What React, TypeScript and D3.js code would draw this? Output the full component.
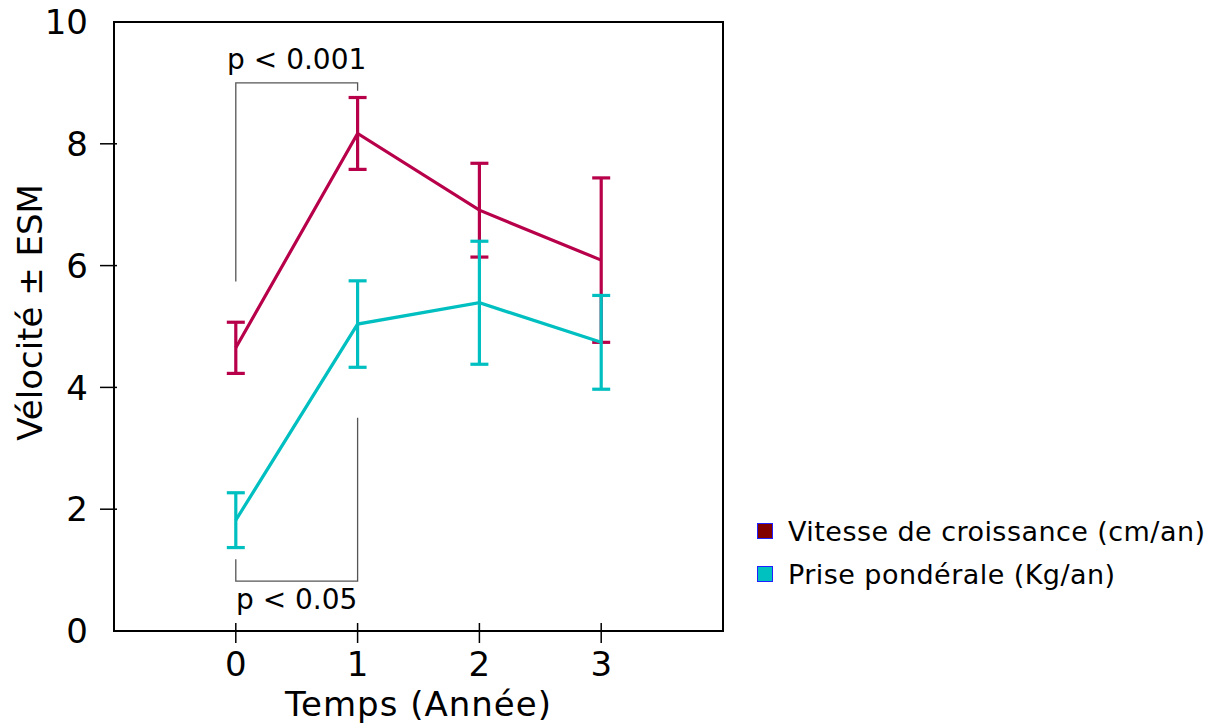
import React from 'react';
import * as d3 from 'd3';

// values
const years = [0, 1, 2, 3];
const vitesseMean = [4.65, 8.17, 6.91, 6.09];
const vitesseErr = [0.42, 0.59, 0.77, 1.35];
const priseMean = [1.82, 5.04, 5.39, 4.74];
const priseErr = [0.45, 0.71, 1.01, 0.77];
const yTicks = [0, 2, 4, 6, 8, 10];
const xTicks = [0, 1, 2, 3];
const seriesNames = ['Vitesse de croissance (cm/an)', 'Prise pondérale (Kg/an)'];
const lineColors = ['#b8004a', '#00bfc0'];
const swatchColors = ['#800000', '#00c0c0'];

// significance brackets: [from, to, barValue, leftLegEnd, rightLegEnd, labelValue, label]
const brackets: [number, number, number, number, number, number, string][] = [
  [0, 1, 9.0, 5.74, 8.87, 9.23, 'p < 0.001'],
  [0, 1, 0.82, 1.18, 3.5, 0.36, 'p < 0.05'],
];

const font = 'DejaVu Sans, Verdana, sans-serif';

const App = () => {
  const width = 1211, height = 725;
  const x = d3.scaleLinear().domain([-1, 4]).range([114, 723]);
  const y = d3.scaleLinear().domain([0, 10]).range([631, 22]);

  const series = [
    { mean: vitesseMean, err: vitesseErr, color: lineColors[0] },
    { mean: priseMean, err: priseErr, color: lineColors[1] },
  ];

  const line = d3.line<number>()
    .x((d, i) => x(years[i]))
    .y(d => y(d));

  const cap = 9;

  return (
    <svg width={width} height={height} style={{ position: 'absolute', left: 0, top: 0 }}
      fontFamily={font}>
      <rect width={width} height={height} fill="#fff" />

      {/* frame */}
      <path d={`M${x(-1)},${y(0)}V${y(10)}H${x(4)}V${y(0)}`} fill="none" stroke="#000" strokeWidth={2} />
      <line x1={x(-1) - 1} x2={x(4) + 1} y1={y(0)} y2={y(0)} stroke="#000" strokeWidth={2} />

      {/* y axis */}
      {yTicks.map(t => (
        <g key={'y' + t}>
          {t > 0 && t < 10 && (
            <line x1={100} x2={117} y1={y(t)} y2={y(t)} stroke="#000" strokeWidth={1.5} />
          )}
          <text x={88} y={y(t)} dy="0.36em" textAnchor="end" fontSize={34}>{t}</text>
        </g>
      ))}
      <text transform={`translate(42,${(y(0) + y(10)) / 2 - 14}) rotate(-90)`} textAnchor="middle" fontSize={34}>
        Vélocité ± ESM
      </text>

      {/* x axis */}
      {xTicks.map(t => (
        <g key={'x' + t}>
          <line x1={x(t)} x2={x(t)} y1={y(0) - 8} y2={y(0) + 12} stroke="#000" strokeWidth={1.5} />
          <text x={x(t)} y={664} dy="0.36em" textAnchor="middle" fontSize={34}>{t}</text>
        </g>
      ))}
      <text x={(x(-1) + x(4)) / 2} y={716} textAnchor="middle" fontSize={34} letterSpacing={1}>Temps (Année)</text>

      {/* significance brackets */}
      {brackets.map(([a, b, bar, l, r, ly, label]) => (
        <g key={label}>
          <path d={`M${x(a)},${y(l)}V${y(bar)}H${x(b)}V${y(r)}`} fill="none" stroke="#555" strokeWidth={1.3} />
          <text x={(x(a) + x(b)) / 2} y={y(ly)} textAnchor="middle" fontSize={28}>{label}</text>
        </g>
      ))}

      {/* series */}
      {series.map((s, si) => (
        <g key={si} stroke={s.color} strokeWidth={3.2} fill="none">
          <path d={line(s.mean) || ''} />
          {s.mean.map((m, i) => {
            const cx = x(years[i]);
            const top = y(m + s.err[i]);
            const bot = y(m - s.err[i]);
            return (
              <g key={i}>
                <line x1={cx} x2={cx} y1={top} y2={bot} />
                <line x1={cx - cap} x2={cx + cap} y1={top} y2={top} />
                <line x1={cx - cap} x2={cx + cap} y1={bot} y2={bot} />
              </g>
            );
          })}
        </g>
      ))}

      {/* legend */}
      {seriesNames.map((name, i) => (
        <g key={name} transform={`translate(757,${523 + i * 43})`}>
          <rect x={0.5} y={0.5} width={15} height={15} fill={swatchColors[i]} stroke="#2020ff" strokeWidth={1} />
          <text x={31} y={8} dy="0.36em" fontSize={27} letterSpacing={0.45}>{name}</text>
        </g>
      ))}
    </svg>
  );
};

export default App;
